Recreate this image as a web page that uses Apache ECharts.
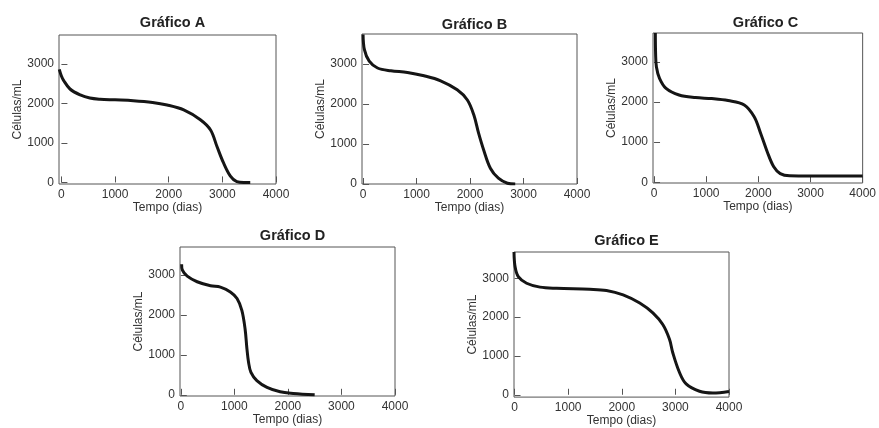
<!DOCTYPE html>
<html>
<head>
<meta charset="utf-8">
<script src="https://cdn.jsdelivr.net/npm/echarts@6/dist/echarts.min.js"></script>
<style>
html, body { margin: 0; padding: 0; background: #fff; }
#container { width: 879px; height: 428px; }
</style>
</head>
<body>
<div id="container"></div>
<script>
// valores: [tempo (dias), células/mL]
var titulos = ['Gráfico A', 'Gráfico B', 'Gráfico C', 'Gráfico D', 'Gráfico E'];
var ticksX = [0, 1000, 2000, 3000, 4000];
var ticksY = [0, 1000, 2000, 3000];

var curvaA = [[-40, 2870], [0, 2700], [40, 2590], [160, 2370], [350, 2220], [530, 2140], [720, 2110],
  [1000, 2095], [1340, 2075], [1700, 2030], [1970, 1965], [2280, 1840], [2590, 1590], [2780, 1330],
  [2900, 910], [3020, 500], [3150, 160], [3270, 20], [3400, 0], [3520, 0]];
var curvaB = [[0, 3740], [25, 3360], [115, 3070], [270, 2900], [520, 2830], [830, 2790], [1140, 2705],
  [1450, 2580], [1760, 2355], [1950, 2100], [2070, 1730], [2160, 1270], [2255, 850], [2380, 395],
  [2530, 145], [2700, 20], [2845, 0]];
var curvaC = [[25, 3720], [30, 3200], [45, 2880], [105, 2590], [230, 2340], [480, 2175], [795, 2110],
  [1105, 2085], [1420, 2035], [1730, 1925], [1920, 1630], [2045, 1215], [2170, 760], [2295, 385],
  [2420, 215], [2600, 160], [3000, 155], [4000, 155]];
var curvaD = [[15, 3270], [30, 3120], [120, 2970], [305, 2830], [555, 2730], [740, 2695], [925, 2575],
  [1050, 2410], [1140, 2115], [1200, 1655], [1235, 1150], [1265, 815], [1310, 560], [1420, 355],
  [1610, 185], [1855, 75], [2100, 35], [2500, 0]];
var curvaE = [[-10, 3680], [10, 3300], [70, 3045], [225, 2875], [475, 2775], [785, 2745], [1400, 2720],
  [1715, 2690], [2025, 2575], [2335, 2365], [2580, 2110], [2765, 1810], [2890, 1430], [2950, 1090],
  [3075, 580], [3200, 280], [3450, 90], [3700, 45], [4000, 85]];

var curvas = [curvaA, curvaB, curvaC, curvaD, curvaE];

// posição de cada quadro e faixas dos eixos
var grades = [
  {left: 59, top: 35, width: 217, height: 149},
  {left: 362, top: 34, width: 215, height: 150},
  {left: 653, top: 33, width: 215, height: 150},
  {left: 180, top: 247, width: 215, height: 149},
  {left: 514, top: 252, width: 215, height: 148}
];
var faixasX = [[-45, 4000], [-20, 4000], [-20, 4000], [-15, 4000], [-10, 4000]];
var faixasY = [[-40, 3740], [0, 3750], [-20, 3720], [-30, 3700], [-60, 3680]];
var topoTitulo = [10, 12, 10, 223, 228];

var fonte = '"Liberation Sans", Arial, sans-serif';
var dom = document.getElementById('container');
var myChart = echarts.init(dom, null, {renderer: 'canvas'});

function semMilhar(v) { return String(v); }

var option = {
  backgroundColor: '#fff',
  animation: false,
  title: [],
  grid: [],
  xAxis: [],
  yAxis: [],
  series: []
};

for (var i = 0; i < curvas.length; i++) {
  var g = grades[i];
  option.title.push({
    text: titulos[i],
    left: g.left + g.width / 2,
    top: topoTitulo[i],
    textAlign: 'center',
    textStyle: {fontFamily: fonte, fontSize: 14.5, fontWeight: 'bold', color: '#222'}
  });
  option.grid.push({
    left: g.left, top: g.top, width: g.width, height: g.height,
    show: true, borderColor: '#555', borderWidth: 1, backgroundColor: 'transparent'
  });
  option.xAxis.push({
    type: 'value', gridIndex: i,
    min: faixasX[i][0], max: faixasX[i][1],
    name: 'Tempo (dias)', nameLocation: 'middle', nameGap: 17,
    nameTextStyle: {fontFamily: fonte, fontSize: 12, color: '#333'},
    axisLine: {show: false},
    axisTick: {show: true, inside: true, length: 6, customValues: ticksX, lineStyle: {color: '#555'}},
    axisLabel: {customValues: ticksX, formatter: semMilhar, fontFamily: fonte, fontSize: 12, color: '#333', margin: 5},
    splitLine: {show: false}
  });
  option.yAxis.push({
    type: 'value', gridIndex: i,
    min: faixasY[i][0], max: faixasY[i][1],
    name: 'Células/mL', nameLocation: 'middle', nameGap: 32,
    nameTextStyle: {fontFamily: fonte, fontSize: 12, color: '#333'},
    axisLine: {show: false},
    axisTick: {show: true, inside: true, length: 6, customValues: ticksY, lineStyle: {color: '#555'}},
    axisLabel: {customValues: ticksY, formatter: semMilhar, fontFamily: fonte, fontSize: 12, color: '#333', margin: 5},
    splitLine: {show: false}
  });
  option.series.push({
    type: 'line', xAxisIndex: i, yAxisIndex: i,
    data: curvas[i], smooth: 0.35, showSymbol: false, clip: true,
    lineStyle: {color: '#151515', width: 3}
  });
}

myChart.setOption(option);
</script>
</body>
</html>
